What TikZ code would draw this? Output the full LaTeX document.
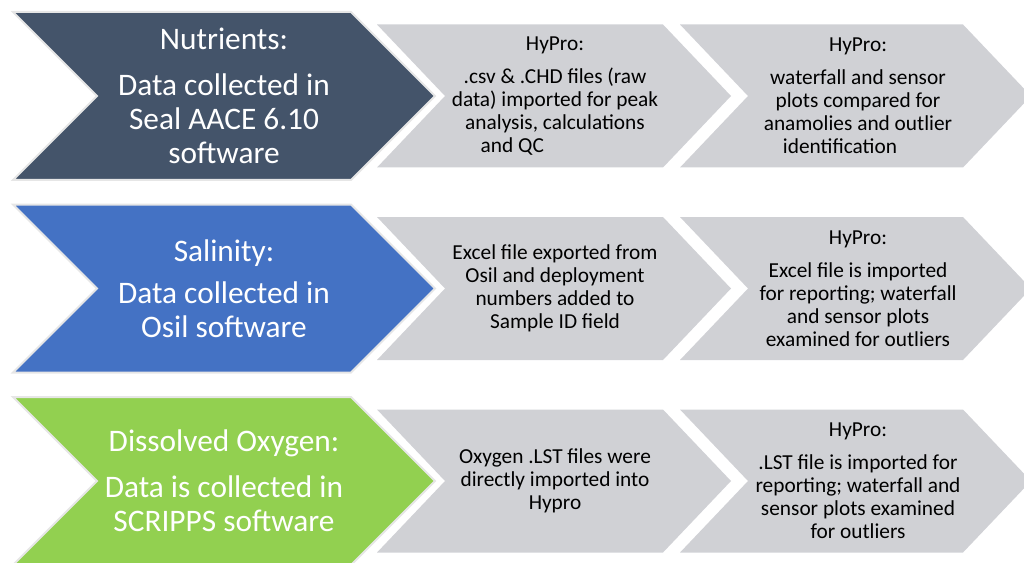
\documentclass[tikz,border=0pt]{standalone}
\usepackage{fontspec}
\setmainfont{Carlito}
\definecolor{navychev}{HTML}{44546A}
\definecolor{bluechev}{HTML}{4472C4}
\definecolor{greenchev}{HTML}{92D050}
\definecolor{graychev}{HTML}{D0D1D5}
\definecolor{chevedge}{HTML}{E6E6E6}
\begin{document}
\begin{tikzpicture}[x=0.75pt,y=0.75pt,yscale=-1,xscale=1,
	bigchev/.style={draw=chevedge,line width=1.5pt,line join=miter},
	greychev/.style={fill=graychev,draw=none},
	bigtext/.style={text=white,align=center,inner sep=0pt,font=\fontsize{23.5}{25.5}\selectfont},
	greytext/.style={text=black,align=center,inner sep=0pt,font=\fontsize{16}{17.25}\selectfont}]
	\useasboundingbox (0,0) rectangle (1024,563);
	% grey steps
	\draw [greychev] (377,24.5) -- (663,24.5) -- (731,96) -- (663,167.5) -- (377,167.5) -- (445,96) -- cycle;
	\draw [greychev] (680,24.5) -- (963,24.5) -- (1031,96) -- (963,167.5) -- (680,167.5) -- (748,96) -- cycle;
	\draw [greychev] (377,217) -- (663,217) -- (731,288.5) -- (663,360) -- (377,360) -- (445,288.5) -- cycle;
	\draw [greychev] (680,217) -- (963,217) -- (1031,288.5) -- (963,360) -- (680,360) -- (748,288.5) -- cycle;
	\draw [greychev] (377,409.5) -- (663,409.5) -- (731,481) -- (663,552.5) -- (377,552.5) -- (445,481) -- cycle;
	\draw [greychev] (680,409.5) -- (963,409.5) -- (1031,481) -- (963,552.5) -- (680,552.5) -- (748,481) -- cycle;
	% coloured steps
	\draw [bigchev,fill=navychev] (13,12) -- (351,12) -- (435,96) -- (351,180) -- (13,180) -- (97,96) -- cycle;
	\draw [bigchev,fill=bluechev] (13,204.5) -- (351,204.5) -- (435,288.5) -- (351,372.5) -- (13,372.5) -- (97,288.5) -- cycle;
	\draw [bigchev,fill=greenchev] (13,397) -- (351,397) -- (435,481) -- (351,565) -- (13,565) -- (97,481) -- cycle;

	\draw (224,96) node [bigtext] (nutr) {Nutrients:\\[9pt]Data collected in\\Seal AACE 6.10\\software};
	\draw (555,96) node [greytext] (nutrA) {HyPro:\\[7.5pt].csv \& .CHD files (raw\\data) imported for peak\\analysis, calculations\\and QC\hspace*{64pt}};
	\draw (858,96) node [greytext] (nutrB) {HyPro:\\[7.5pt]waterfall and sensor\\plots compared for\\anamolies and outlier\\identification\hspace*{27pt}};
	\draw (224,288.5) node [bigtext] (sal) {Salinity:\\[6pt]Data collected in\\Osil software};
	\draw (555,288.5) node [greytext] (salA) {Excel file exported from\\Osil and deployment\\numbers added to\\Sample ID field};
	\draw (858,288.5) node [greytext] (salB) {HyPro:\\[7.5pt]Excel file is imported\\for reporting; waterfall\\and sensor plots\\examined for outliers};
	\draw (224,481) node [bigtext] (oxy) {Dissolved Oxygen:\\[9pt]Data is collected in\\SCRIPPS software};
	\draw (555,481) node [greytext] (oxyA) {Oxygen .LST files were\\directly imported into\\Hypro};
	\draw (858,481) node [greytext] (oxyB) {HyPro:\\[7.5pt].LST file is imported for\\reporting; waterfall and\\sensor plots examined\\for outliers};
\end{tikzpicture}
\end{document}
